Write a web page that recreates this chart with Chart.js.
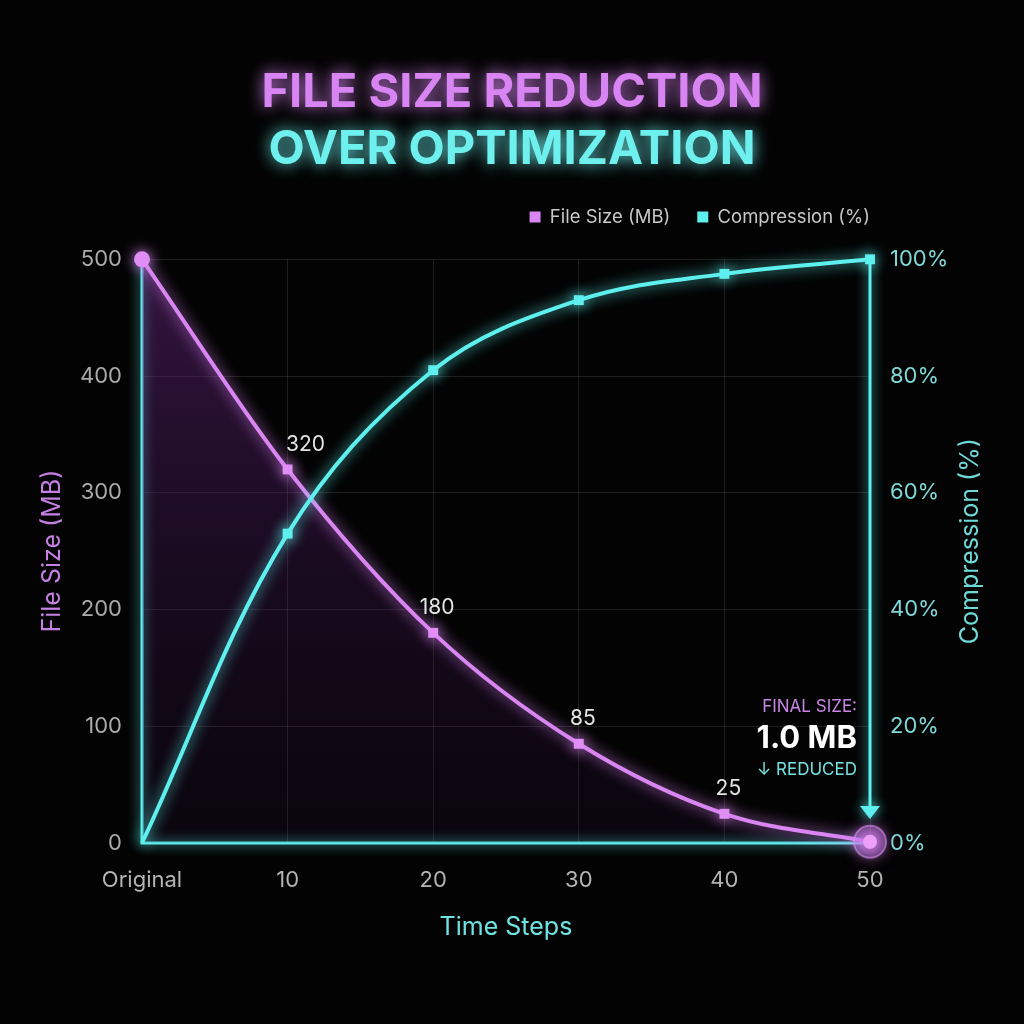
<!DOCTYPE html>
<html>
<head>
<meta charset="utf-8">
<script src="https://cdn.jsdelivr.net/npm/chart.js@4.4.1/dist/chart.umd.min.js"></script>
<style>
  html, body { margin: 0; padding: 0; background: #000; }
  #wrap { width: 1024px; height: 1024px; }
</style>
</head>
<body>
<div id="wrap"><canvas id="chart" width="1024" height="1024"></canvas></div>
<script>
// chart data
const steps = ['Original', '10', '20', '30', '40', '50'];
const fileSizeMB = [500, 320, 180, 85, 25, 1.0];
const compressionPct = [0, 53, 81, 93, 97.5, 100];
const showValue = [false, true, true, true, true, false];

const PURPLE = '#d985f2';
const CYAN = '#5ef0ee';
const FONT = 'Inter, "Noto Sans", sans-serif';

Chart.defaults.font.family = FONT;

// black page behind everything
const bgPlugin = {
  id: 'bg',
  beforeDraw(chart) {
    const ctx = chart.ctx;
    ctx.save();
    ctx.fillStyle = '#030303';
    ctx.fillRect(0, 0, chart.width, chart.height);
    ctx.restore();
  }
};

// extra room under the legend, push legend to the right edge, glow on titles
const tweakPlugin = {
  id: 'tweaks',
  beforeLayout(chart) {
    if (chart._tweaked) return;
    chart._tweaked = true;
    const lg = chart.legend;
    const fit = lg.fit;
    lg.fit = function () { fit.call(this); this.height += 23; };
    const ldraw = lg.draw;
    lg.draw = function (...a) {
      const ctx = this.ctx;
      ctx.save();
      ctx.translate(this.options.labels.padding, 0);
      ldraw.apply(this, a);
      ctx.restore();
    };
    chart.boxes.filter(b => b.options && b.options.text !== undefined && !b.axis).forEach(b => {
      const draw = b.draw;
      b.draw = function (...a) {
        const ctx = this.ctx;
        ctx.save();
        ctx.shadowColor = this.options.color;
        ctx.shadowBlur = 16;
        draw.apply(this, a);
        ctx.restore();
      };
    });
  }
};

// neon glow on lines and points
const glowPlugin = {
  id: 'glow',
  beforeDatasetDraw(chart, args) {
    const ctx = chart.ctx;
    ctx.save();
    ctx.shadowColor = args.index === 0 ? PURPLE : CYAN;
    ctx.shadowBlur = 14;
  },
  afterDatasetDraw(chart) {
    chart.ctx.restore();
  }
};

// cyan frame with the arrow pointing at the final size
const framePlugin = {
  id: 'frame',
  beforeDatasetsDraw(chart) {
    const { ctx, scales: { x, y1 } } = chart;
    const x0 = x.getPixelForValue(0);
    const x5 = x.getPixelForValue(steps.length - 1);
    const yTop = y1.getPixelForValue(100);
    const yBot = y1.getPixelForValue(0);
    ctx.save();
    ctx.strokeStyle = CYAN;
    ctx.fillStyle = CYAN;
    ctx.lineWidth = 3;
    ctx.shadowColor = CYAN;
    ctx.shadowBlur = 12;
    ctx.beginPath();
    ctx.moveTo(x0, yTop);
    ctx.lineTo(x0, yBot);
    ctx.lineTo(x5, yBot);
    ctx.moveTo(x5, yTop);
    ctx.lineTo(x5, yBot - 34);
    ctx.stroke();
    ctx.beginPath();
    ctx.moveTo(x5 - 10, yBot - 37);
    ctx.lineTo(x5 + 10, yBot - 37);
    ctx.lineTo(x5, yBot - 24);
    ctx.closePath();
    ctx.fill();
    ctx.restore();
  }
};

// value labels, final-point halo, annotation, right axis title
const extrasPlugin = {
  id: 'extras',
  afterDatasetsDraw(chart) {
    const { ctx, chartArea, scales: { x } } = chart;
    const meta = chart.getDatasetMeta(0);
    ctx.save();
    ctx.font = '21px ' + FONT;
    ctx.fillStyle = '#e4e4e4';
    ctx.textAlign = 'center';
    ctx.textBaseline = 'middle';
    meta.data.forEach((pt, i) => {
      if (!showValue[i]) return;
      ctx.fillText(String(fileSizeMB[i]), pt.x + (i === 1 ? 18 : 4), pt.y - 25);
    });

    // halo on final point
    const last = meta.data[meta.data.length - 1];
    ctx.shadowColor = PURPLE;
    ctx.shadowBlur = 14;
    ctx.beginPath();
    ctx.arc(last.x, last.y, 16, 0, Math.PI * 2);
    ctx.fillStyle = 'rgba(190, 110, 225, 0.38)';
    ctx.fill();
    ctx.lineWidth = 2;
    ctx.strokeStyle = 'rgba(220, 150, 245, 0.55)';
    ctx.stroke();
    ctx.beginPath();
    ctx.arc(last.x, last.y, 7, 0, Math.PI * 2);
    ctx.fillStyle = '#ef9ff7';
    ctx.fill();
    ctx.shadowBlur = 0;

    // annotation
    const ax = x.getPixelForValue(steps.length - 1) - 13;
    ctx.textAlign = 'right';
    ctx.font = '17px ' + FONT;
    ctx.fillStyle = '#c986e6';
    ctx.fillText('FINAL SIZE:', ax, 707);
    ctx.font = 'bold 31px ' + FONT;
    ctx.fillStyle = '#ffffff';
    ctx.fillText(fileSizeMB[fileSizeMB.length - 1].toFixed(1) + ' MB', ax, 739);
    ctx.font = '17px ' + FONT;
    ctx.fillStyle = '#72e2e0';
    ctx.fillText('\u2193 REDUCED', ax, 770);

    // right axis title, reading bottom to top
    ctx.translate(970, (chartArea.top + chartArea.bottom) / 2 - 10);
    ctx.rotate(-Math.PI / 2);
    ctx.textAlign = 'center';
    ctx.font = '25px ' + FONT;
    ctx.fillStyle = '#6fd9d8';
    ctx.fillText('Compression (%)', 0, 0);
    ctx.restore();
  }
};

const gridColor = 'rgba(255,255,255,0.11)';
const seriesColors = [PURPLE, CYAN];

new Chart(document.getElementById('chart'), {
  type: 'line',
  data: {
    labels: steps,
    datasets: [
      {
        label: 'File Size (MB)',
        data: fileSizeMB,
        yAxisID: 'y',
        order: 1,
        clip: false,
        borderColor: PURPLE,
        borderWidth: 4,
        cubicInterpolationMode: 'monotone',
        fill: 'origin',
        backgroundColor(c) {
          const area = c.chart.chartArea;
          if (!area) return 'rgba(120,50,150,0.25)';
          const g = c.chart.ctx.createLinearGradient(0, area.top, 0, area.bottom);
          g.addColorStop(0, 'rgba(120, 45, 150, 0.42)');
          g.addColorStop(1, 'rgba(60, 20, 80, 0.12)');
          return g;
        },
        pointStyle: ['circle', 'rect', 'rect', 'rect', 'rect', 'circle'],
        pointRadius: [8, 7, 7, 7, 7, 7],
        pointBackgroundColor: '#e08ef5',
        pointBorderWidth: 0
      },
      {
        label: 'Compression (%)',
        data: compressionPct,
        yAxisID: 'y1',
        order: 0,
        clip: false,
        borderColor: CYAN,
        borderWidth: 4,
        tension: 0.36,
        fill: false,
        pointStyle: 'rect',
        pointRadius: [0, 7, 7, 7, 7, 7],
        pointBackgroundColor: CYAN,
        pointBorderWidth: 0
      }
    ]
  },
  options: {
    responsive: false,
    animation: false,
    layout: { padding: { left: 30, right: 30, top: 0, bottom: 0 } },
    plugins: {
      title: {
        display: true,
        text: 'FILE SIZE REDUCTION',
        color: '#d884f2',
        font: { size: 47, weight: 'bold' },
        padding: { top: 65, bottom: 0 }
      },
      subtitle: {
        display: true,
        text: 'OVER OPTIMIZATION',
        color: '#6ef0ee',
        font: { size: 47, weight: 'bold' },
        padding: { top: 0, bottom: 3 }
      },
      legend: {
        fullSize: false,
        align: 'end',
        labels: {
          boxWidth: 11,
          boxHeight: 11,
          padding: 27,
          font: { size: 18.5 },
          color: '#c8c8c8',
          sort: (a, b) => a.datasetIndex - b.datasetIndex,
          generateLabels(chart) {
            return Chart.defaults.plugins.legend.labels.generateLabels(chart).map(l => ({
              ...l,
              fillStyle: seriesColors[l.datasetIndex],
              strokeStyle: seriesColors[l.datasetIndex],
              lineWidth: 0,
              fontColor: '#c8c8c8'
            }));
          }
        }
      },
      tooltip: { enabled: false }
    },
    scales: {
      x: {
        offset: false,
        grid: { color: gridColor, drawTicks: false },
        border: { display: false },
        ticks: { color: '#b4b4b4', font: { size: 22 }, padding: 24 },
        title: {
          display: true, text: 'Time Steps', color: '#6fe3e3',
          font: { size: 25 }, padding: { top: 0, bottom: 82 }
        },
        afterFit(s) { s.height = 181; }
      },
      y: {
        position: 'left',
        min: 0, max: 500,
        ticks: { stepSize: 100, color: '#ababab', font: { size: 22 }, padding: 20 },
        grid: { color: gridColor, drawTicks: false },
        border: { display: false },
        title: {
          display: true, text: 'File Size (MB)', color: '#c67fe2',
          font: { size: 25 }, padding: { top: 7, bottom: 0 }
        },
        afterFit(s) { s.width = 112; }
      },
      y1: {
        position: 'right',
        min: 0, max: 100,
        ticks: { stepSize: 20, color: '#7fd8d6', font: { size: 22 }, padding: 20, callback: v => v + '%' },
        grid: { drawOnChartArea: false, drawTicks: false },
        border: { display: false },
        afterFit(s) { s.width = 124; }
      }
    }
  },
  plugins: [bgPlugin, tweakPlugin, framePlugin, glowPlugin, extrasPlugin]
});
</script>
</body>
</html>
